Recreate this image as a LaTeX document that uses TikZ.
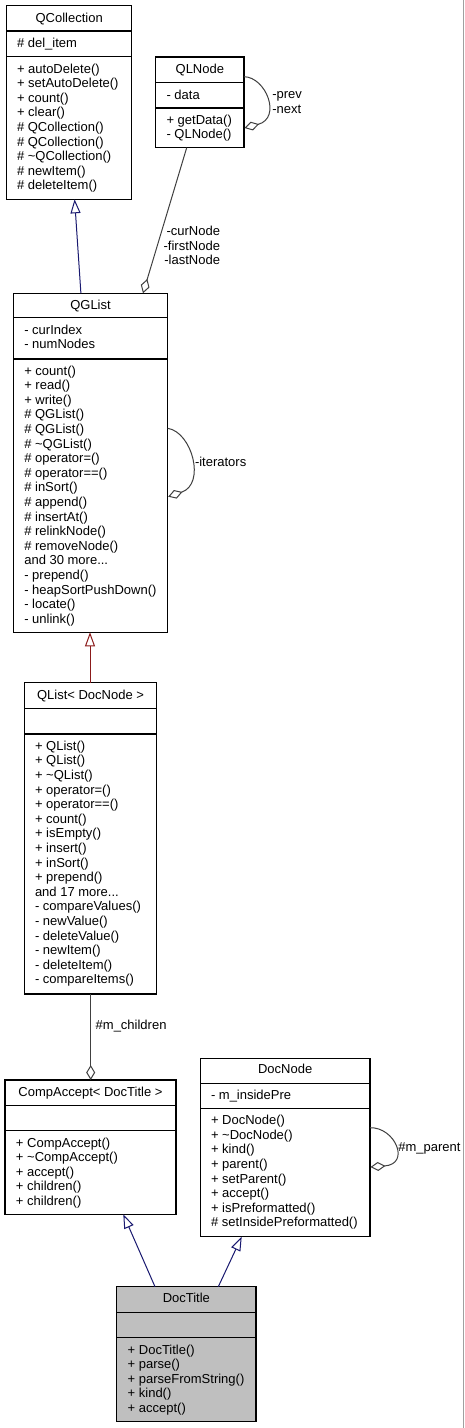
\documentclass[tikz,border=0pt]{standalone}
\usepackage{fontspec}
\setmainfont{Liberation Sans}
\usetikzlibrary{arrows.meta,calc}
\definecolor{inhblue}{HTML}{191970}
\definecolor{inhred}{HTML}{8B1A1A}
\definecolor{usegrey}{HTML}{404040}
\definecolor{focusfill}{HTML}{BFBFBF}
\definecolor{edgegrey}{HTML}{A0A0A0}
\begin{document}
\begin{tikzpicture}[x=1pt,y=-1pt,
  every node/.style={font=\fontsize{13}{14.6}\selectfont, inner sep=0pt, outer sep=0pt},
  clsbox/.style={draw=black, line width=1.2pt, rectangle, anchor=north west, inner sep=0pt},
  focusbox/.style={clsbox, fill=focusfill},
  sepline/.style={draw=black, line width=1.2pt},
  titletext/.style={anchor=base},
  lines/.style={anchor=north west, align=left},
  lbl/.style={anchor=north west, align=left, font=\fontsize{13}{14.4}\selectfont},
  inhpub/.style={draw=inhblue, line width=1pt, -{Triangle[open, length=14pt, width=10pt]}},
  inhpriv/.style={draw=inhred, line width=1pt, -{Triangle[open, length=14pt, width=10pt]}},
  aggr/.style={draw=usegrey, line width=1pt, -{Diamond[open, length=15pt, width=9pt]}}
]
\useasboundingbox (0,0) rectangle (465,1428);
\fill[white] (0,0) rectangle (465,1428);
\draw[edgegrey, line width=1pt] (463.7,0) -- (463.7,1428);

% ---------- QCollection
\node[clsbox, minimum width=125pt, minimum height=193.6pt] (qcoll) at (6.7,5.7) {};
\draw[sepline] ($(qcoll.north west)+(0,25.3)$) -- ++(125,0);
\draw[sepline] ($(qcoll.north west)+(0,51)$) -- ++(125,0);
\node[titletext] (qcolltitle) at ($(qcoll.north)+(0,16.35)$) {QCollection};
\node[lines] (qcollattr) at ($(qcoll.north west)+(10.3,31.65)$) {\rule{0pt}{10pt}\# del\_item};
\node[lines] (qcollops) at ($(qcoll.north west)+(10.3,57.35)$) {\rule{0pt}{10pt}+ autoDelete()\\+ setAutoDelete()\\+ count()\\+ clear()\\\# QCollection()\\\# QCollection()\\\# \textasciitilde QCollection()\\\# newItem()\\\# deleteItem()};

% ---------- QLNode
\node[clsbox, minimum width=88.3pt, minimum height=90.7pt] (qlnode) at (155.7,57) {};
\draw[sepline] ($(qlnode.north west)+(0,25.7)$) -- ++(88.3,0);
\draw[sepline] ($(qlnode.north west)+(0,51)$) -- ++(88.3,0);
\node[titletext] (qlnodetitle) at ($(qlnode.north)+(0,16.1)$) {QLNode};
\node[lines] (qlnodeattr) at ($(qlnode.north west)+(10.8,32.05)$) {\rule{0pt}{10pt}- data};
\node[lines] (qlnodeops) at ($(qlnode.north west)+(10.8,57.35)$) {\rule{0pt}{10pt}+ getData()\\- QLNode()};

% ---------- QGList
\node[clsbox, minimum width=154.4pt, minimum height=339pt] (qglist) at (13.3,293.3) {};
\draw[sepline] ($(qglist.north west)+(0,24.4)$) -- ++(154.4,0);
\draw[sepline] ($(qglist.north west)+(0,65.7)$) -- ++(154.4,0);
\node[titletext] (qglisttitle) at ($(qglist.north)+(0,15.8)$) {QGList};
\node[lines] (qglistattr) at ($(qglist.north west)+(11,30.75)$) {\rule{0pt}{10pt}- curIndex\\- numNodes};
\node[lines] (qglistops) at ($(qglist.north west)+(11,71.7)$) {\rule{0pt}{10pt}+ count()\\+ read()\\+ write()\\\# QGList()\\\# QGList()\\\# \textasciitilde QGList()\\\# operator=()\\\# operator==()\\\# inSort()\\\# append()\\\# insertAt()\\\# relinkNode()\\\# removeNode()\\and 30 more...\\- prepend()\\- heapSortPushDown()\\- locate()\\- unlink()};

% ---------- QList< DocNode >
\node[clsbox, minimum width=132.4pt, minimum height=311.3pt] (qlist) at (24.3,682.7) {};
\draw[sepline] ($(qlist.north west)+(0,25.6)$) -- ++(132.4,0);
\draw[sepline] ($(qlist.north west)+(0,51.3)$) -- ++(132.4,0);
\node[titletext] (qlisttitle) at ($(qlist.north)+(0,16.3)$) {QList< DocNode >};
\node[lines] (qlistops) at ($(qlist.north west)+(10.7,57.65)$) {\rule{0pt}{10pt}+ QList()\\+ QList()\\+ \textasciitilde QList()\\+ operator=()\\+ operator==()\\+ count()\\+ isEmpty()\\+ insert()\\+ inSort()\\+ prepend()\\and 17 more...\\- compareValues()\\- newValue()\\- deleteValue()\\- newItem()\\- deleteItem()\\- compareItems()};

% ---------- CompAccept< DocTitle >
\node[clsbox, minimum width=171pt, minimum height=134.3pt] (comp) at (5,1080) {};
\draw[sepline] ($(comp.north west)+(0,25.7)$) -- ++(171,0);
\draw[sepline] ($(comp.north west)+(0,50.7)$) -- ++(171,0);
\node[titletext] (comptitle) at ($(comp.north)+(0,16.35)$) {CompAccept< DocTitle >};
\node[lines] (compops) at ($(comp.north west)+(11,57.05)$) {\rule{0pt}{10pt}+ CompAccept()\\+ \textasciitilde CompAccept()\\+ accept()\\+ children()\\+ children()};

% ---------- DocNode
\node[clsbox, minimum width=169.7pt, minimum height=178.4pt] (docnode) at (200.3,1058.3) {};
\draw[sepline] ($(docnode.north west)+(0,25)$) -- ++(169.7,0);
\draw[sepline] ($(docnode.north west)+(0,50)$) -- ++(169.7,0);
\node[titletext] (docnodetitle) at ($(docnode.north)+(0,15.65)$) {DocNode};
\node[lines] (docnodeattr) at ($(docnode.north west)+(10.7,31.35)$) {\rule{0pt}{10pt}- m\_insidePre};
\node[lines] (docnodeops) at ($(docnode.north west)+(10.7,56.35)$) {\rule{0pt}{10pt}+ DocNode()\\+ \textasciitilde DocNode()\\+ kind()\\+ parent()\\+ setParent()\\+ accept()\\+ isPreformatted()\\\# setInsidePreformatted()};

% ---------- DocTitle
\node[focusbox, minimum width=139.3pt, minimum height=135pt] (doctitle) at (116.7,1286.7) {};
\draw[sepline] ($(doctitle.north west)+(0,25.6)$) -- ++(139.3,0);
\draw[sepline] ($(doctitle.north west)+(0,51)$) -- ++(139.3,0);
\node[titletext] (doctitletitle) at ($(doctitle.north)+(0,16.25)$) {DocTitle};
\node[lines] (doctitleops) at ($(doctitle.north west)+(11,57.35)$) {\rule{0pt}{10pt}+ DocTitle()\\+ parse()\\+ parseFromString()\\+ kind()\\+ accept()};

% ---------- connectors
\draw[inhpub] ($(qglist.north west)+(67.6,0)$) -- ($(qcoll.south west)+(67.9,0)$);
\draw[aggr] ($(qlnode.south west)+(31,0)$) -- ($(qglist.north west)+(129.7,0)$);
\draw[aggr] ($(qlnode.north east)+(0,19.7)$) .. controls ($(qlnode.north east)+(22,20)$) and ($(qlnode.north east)+(38,61)$) .. ($(qlnode.north east)+(0.5,71)$);
\draw[aggr] ($(qglist.north east)+(0,135)$) .. controls ($(qglist.north east)+(24.3,138.7)$) and ($(qglist.north east)+(38.3,190.7)$) .. ($(qglist.north east)+(0.5,203.4)$);
\draw[inhpriv] ($(qlist.north west)+(65.7,0)$) -- ($(qglist.south west)+(76.7,0)$);
\draw[aggr] ($(qlist.south west)+(66.4,0)$) -- ($(comp.north west)+(85.7,0)$);
\draw[inhpub] ($(doctitle.north west)+(38.3,0)$) -- ($(comp.south west)+(118.3,0)$);
\draw[inhpub] ($(doctitle.north west)+(101.6,0)$) -- ($(docnode.south west)+(41.4,0)$);
\draw[aggr] ($(docnode.north east)+(0,69.4)$) .. controls ($(docnode.north east)+(25,68.7)$) and ($(docnode.north east)+(41,105.7)$) .. ($(docnode.north east)+(0.5,108.7)$);

% ---------- connector labels
\node[lbl] (lblprevnext) at (272.3,88.65) {\rule{0pt}{10pt}-prev\\-next};
\node[lbl, anchor=north east, align=right] (lblnodes) at (220,225.65) {\rule{0pt}{10pt}-curNode\\-firstNode\\-lastNode};
\node[anchor=base west] (lbliter) at (195,466.35) {-iterators};
\node[anchor=base west] (lblchildren) at (95.7,1029.65) {\#m\_children};
\node[anchor=base west] (lblparent) at (398.3,1151.35) {\#m\_parent};
\end{tikzpicture}
\end{document}
